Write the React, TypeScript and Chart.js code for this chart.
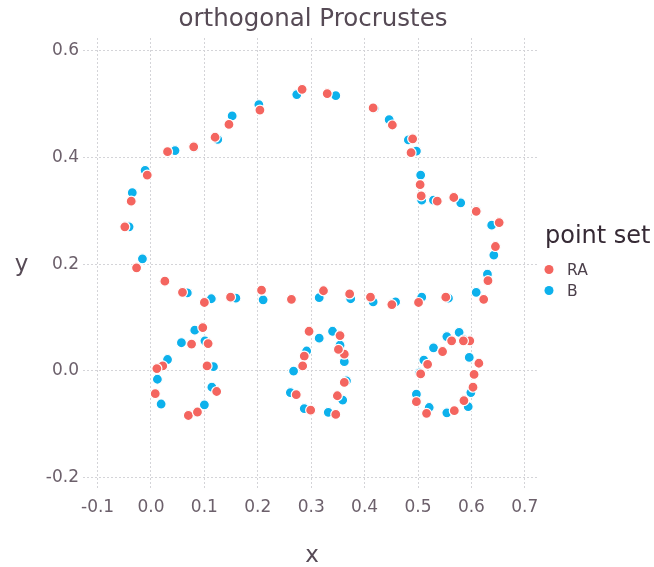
import React, { useEffect, useRef } from "react";
import { Chart, registerables } from "chart.js";

Chart.register(...registerables);

const TITLE = "orthogonal Procrustes";
const X_LABEL = "x";
const Y_LABEL = "y";
const LEGEND_TITLE = "point set";
const SERIES_NAMES = ["RA", "B"];
const SERIES_COLORS = ["#F4655F", "#0DB1EC"];

const xTicks = [-0.1, 0.0, 0.1, 0.2, 0.3, 0.4, 0.5, 0.6, 0.7];
const yTicks = [-0.2, 0.0, 0.2, 0.4, 0.6];
const X_MIN = -0.1273;
const X_MAX = 0.7247;
const Y_MIN = -0.2238;
const Y_MAX = 0.6242;

// RA point set
const raX = [
  -0.049, -0.037, -0.007, 0.031, 0.080, 0.120, 0.146, 0.204, 0.283, 0.330, 0.416, 0.452,
  0.490, 0.487, 0.504, 0.506, 0.536, 0.567, 0.609, 0.652, 0.645, 0.631, 0.623,
  0.552, 0.501, 0.451, 0.411, 0.372, 0.323, 0.263, 0.207, 0.149, 0.100, 0.059, 0.026, -0.027,
  0.097, 0.076, 0.107, 0.022, 0.011, 0.105, 0.008, 0.123, 0.070, 0.087,
  0.296, 0.354, 0.362, 0.351, 0.287, 0.284, 0.362, 0.272, 0.349, 0.299, 0.346,
  0.563, 0.597, 0.585, 0.546, 0.614, 0.518, 0.505, 0.605, 0.603, 0.497, 0.586, 0.516, 0.568,
];
const raY = [
  0.270, 0.318, 0.367, 0.411, 0.420, 0.438, 0.462, 0.489, 0.528, 0.520, 0.493, 0.461,
  0.435, 0.409, 0.349, 0.328, 0.318, 0.325, 0.299, 0.278, 0.233, 0.169, 0.134,
  0.138, 0.128, 0.124, 0.138, 0.144, 0.150, 0.134, 0.151, 0.138, 0.128, 0.147, 0.168, 0.193,
  0.081, 0.050, 0.051, 0.009, 0.004, 0.009, -0.043, -0.039, -0.084, -0.0775,
  0.074, 0.066, 0.031, 0.040, 0.0275, 0.009, -0.022, -0.045, -0.047, -0.074, -0.082,
  0.056, 0.056, 0.056, 0.036, 0.014, 0.012, -0.006, -0.007, -0.031, -0.058, -0.056, -0.080, -0.075,
];

// B point set
const bX = [
  -0.041, -0.035, -0.011, 0.045, 0.081, 0.125, 0.152, 0.202, 0.273, 0.346, 0.418, 0.446,
  0.482, 0.497, 0.505, 0.507, 0.529, 0.580, 0.609, 0.638, 0.642, 0.630, 0.609,
  0.557, 0.507, 0.458, 0.416, 0.374, 0.315, 0.263, 0.210, 0.159, 0.113, 0.068, 0.026, -0.016,
  0.082, 0.057, 0.101, 0.031, 0.012, 0.117, 0.019, 0.114, 0.100, 0.085,
  0.315, 0.340, 0.2915, 0.362, 0.267, 0.261, 0.366, 0.359, 0.287, 0.332, 0.354,
  0.577, 0.554, 0.529, 0.596, 0.511, 0.503, 0.497, 0.599, 0.594, 0.521, 0.554, 0.586,
];
const bY = [
  0.270, 0.334, 0.376, 0.413, 0.419, 0.434, 0.478, 0.499, 0.518, 0.516, 0.492, 0.471,
  0.433, 0.412, 0.367, 0.320, 0.320, 0.315, 0.300, 0.273, 0.217, 0.181, 0.147,
  0.136, 0.138, 0.129, 0.129, 0.135, 0.137, 0.134, 0.133, 0.136, 0.135, 0.146, 0.168, 0.210,
  0.076, 0.0525, 0.056, 0.021, -0.016, 0.0075, -0.0625, -0.031, -0.064, -0.078,
  0.061, 0.074, 0.037, 0.017, -0.0006, -0.041, -0.019, -0.055, -0.071, -0.078, 0.048,
  0.072, 0.064, 0.043, 0.025, 0.020, -0.004, -0.044, -0.041, -0.0675, -0.069, -0.079, 0.058,
];

const FONT = '"DejaVu Sans", sans-serif';
const TICK_COLOR = "#6C606B";
const LABEL_COLOR = "#564A55";
const KEY_TITLE_COLOR = "#362A35";
const KEY_LABEL_COLOR = "#4C404B";
const GRID_COLOR = "#D4D4D8";

const toPoints = (xs: number[], ys: number[]) => xs.map((x, i) => ({ x, y: ys[i] }));

const textPlugin = {
  id: "gadflyText",
  afterDraw(chart: any) {
    const ctx: CanvasRenderingContext2D = chart.ctx;
    const area = chart.chartArea;
    const cx = (area.left + area.right) / 2;
    const cy = (area.top + area.bottom) / 2;
    ctx.save();
    ctx.textBaseline = "alphabetic";

    // title
    ctx.fillStyle = LABEL_COLOR;
    ctx.textAlign = "center";
    ctx.font = `24.5px ${FONT}`;
    ctx.fillText(TITLE, cx + 2.5, 26);

    // axis labels
    ctx.font = `23px ${FONT}`;
    ctx.fillText(X_LABEL, cx + 1.5, 562);
    ctx.fillText(Y_LABEL, 21.5, cy + 7);

    // legend
    ctx.textAlign = "left";
    ctx.fillStyle = KEY_TITLE_COLOR;
    ctx.font = `24px ${FONT}`;
    ctx.fillText(LEGEND_TITLE, area.right + 7, 243);

    ctx.font = `15.5px ${FONT}`;
    chart.data.datasets.forEach((ds: any, i: number) => {
      const y = 269.5 + i * 21;
      ctx.beginPath();
      ctx.arc(area.right + 11, y, 4.5, 0, Math.PI * 2);
      ctx.fillStyle = ds.backgroundColor;
      ctx.fill();
      ctx.fillStyle = KEY_LABEL_COLOR;
      ctx.fillText(ds.label, area.right + 29, y + 5.8);
    });
    ctx.restore();
  },
};

export default function App() {
  const ref = useRef<HTMLCanvasElement>(null);

  useEffect(() => {
    if (!ref.current) return;
    const pointStyle = (i: number) => ({
      label: SERIES_NAMES[i],
      backgroundColor: SERIES_COLORS[i],
      borderColor: "#FFFFFF",
      borderWidth: 1.2,
      pointRadius: 5,
      pointHoverRadius: 5,
    });
    const chart = new Chart(ref.current, {
      type: "scatter",
      data: {
        datasets: [
          { ...pointStyle(0), data: toPoints(raX, raY) },
          { ...pointStyle(1), data: toPoints(bX, bY) },
        ],
      },
      options: {
        responsive: false,
        animation: false,
        devicePixelRatio: 1,
        layout: { padding: { left: 0, top: 38, right: 116, bottom: 0 } },
        plugins: {
          legend: { display: false },
          tooltip: { enabled: false },
          title: { display: false },
        },
        scales: {
          x: {
            type: "linear",
            min: X_MIN,
            max: X_MAX,
            afterBuildTicks: (s: any) => {
              s.ticks = xTicks.map((v) => ({ value: v }));
            },
            afterFit: (s: any) => {
              s.height = 77;
            },
            ticks: {
              callback: (v: any) => Number(v).toFixed(1),
              color: TICK_COLOR,
              font: { family: FONT, size: 17 },
              padding: 7,
              maxRotation: 0,
              autoSkip: false,
            },
            grid: { color: GRID_COLOR, drawTicks: false, lineWidth: 1 },
            border: { display: false, dash: [2, 2] },
          },
          y: {
            type: "linear",
            min: Y_MIN,
            max: Y_MAX,
            afterBuildTicks: (s: any) => {
              s.ticks = yTicks.map((v) => ({ value: v }));
            },
            afterFit: (s: any) => {
              s.width = 83;
            },
            ticks: {
              callback: (v: any) => Number(v).toFixed(1),
              color: TICK_COLOR,
              font: { family: FONT, size: 17 },
              padding: 4,
              autoSkip: false,
            },
            grid: { color: GRID_COLOR, drawTicks: false, lineWidth: 1 },
            border: { display: false, dash: [2, 2] },
          },
        },
      } as any,
      plugins: [textPlugin],
    });
    return () => chart.destroy();
  }, []);

  return (
    <div style={{ position: "absolute", left: 0, top: 0, width: 654, height: 567, background: "#FFFFFF" }}>
      <canvas ref={ref} width={654} height={567} style={{ display: "block" }} />
    </div>
  );
}
